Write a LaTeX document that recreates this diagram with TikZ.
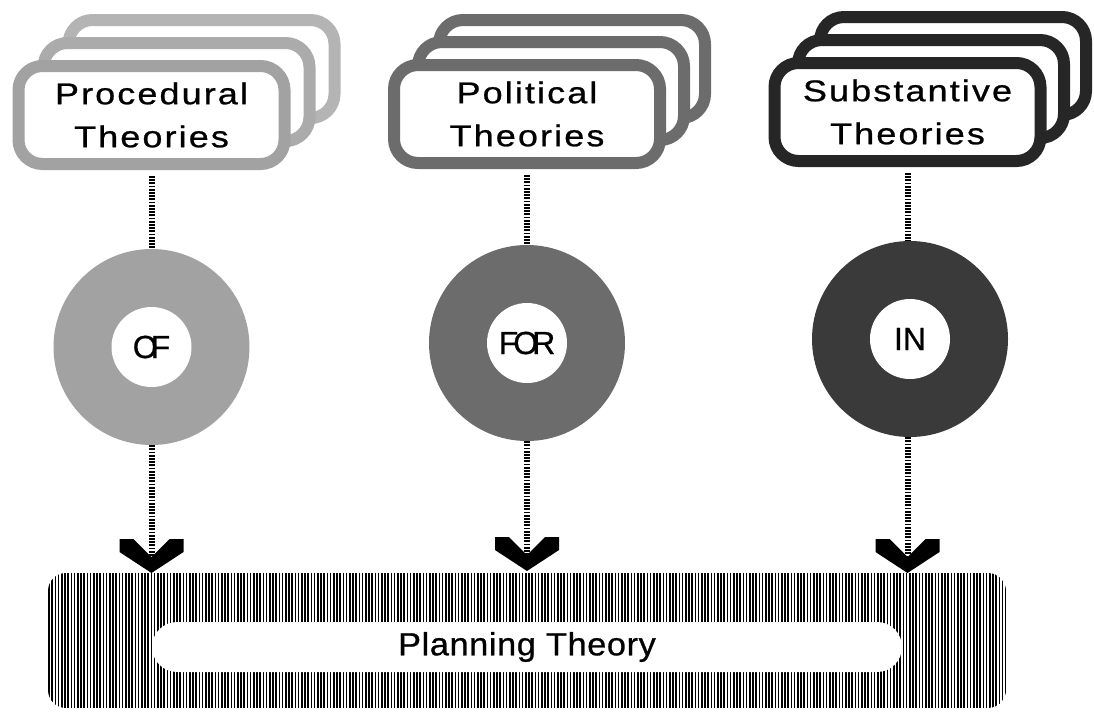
\documentclass[tikz,border=0pt]{standalone}
\usepackage{fontspec}
\setmainfont{Liberation Sans}[FakeBold=0.6]
\newfontfamily\cardfont[LetterSpace=7,FakeStretch=1.2,FakeBold=0.8]{Liberation Sans}
\newfontfamily\barfont[LetterSpace=2,FakeStretch=1.07,FakeBold=0.8]{Liberation Sans}
\definecolor{lightshade}{HTML}{A2A2A2}
\definecolor{lightshadeback}{HTML}{B4B4B4}
\definecolor{midshade}{HTML}{6C6C6C}
\definecolor{darkshade}{HTML}{262626}
\definecolor{darkring}{HTML}{3A3A3A}
\begin{document}
\begin{tikzpicture}[x=1pt,y=-1pt,
  card/.style={draw=#1, fill=white, line width=12pt, rounded corners=24pt,
    inner sep=0pt, minimum width=266pt, minimum height=98pt,
    align=center, font=\cardfont\fontsize{30}{43}\selectfont},
  ring/.style={circle, fill=#1, minimum size=196pt, inner sep=0pt},
  hub/.style={circle, fill=white, minimum size=80pt, inner sep=0pt,
    font=\fontsize{32}{36}\selectfont},
  link/.style={line width=6pt, dash pattern=on 1.8pt off 1.4pt},
  chevron/.pic={\fill (0,0) -- (-32,-21) -- (-32,-34) -- (-18,-34) -- (0,-16)
    -- (18,-34) -- (32,-34) -- (32,-21) -- cycle;},
  hatchbar/.style={rounded corners=18pt, minimum width=958pt, minimum height=135pt,
    inner sep=0pt,
    path picture={\foreach \i in {0,...,300}{
      \draw[line width=1.7pt] ([xshift=\i*3.2pt+1pt]path picture bounding box.north west)
        -- ([xshift=\i*3.2pt+1pt]path picture bounding box.south west);}}}
]
\useasboundingbox (0,0) rectangle (1094,720);

% stacked theory cards, back to front
\node[card=lightshadeback] (procB) at (201.5,69) {};
\node[card=lightshade!90!white] (procM) at (176.5,92) {};
\node[card=lightshade] (procF) at (151.5,115) {Procedural\\Theories};

\node[card=midshade] (polB) at (572,69) {};
\node[card=midshade] (polM) at (551,91) {};
\node[card=midshade] (polF) at (527,114) {Political\\Theories};

\node[card=darkshade] (subB) at (953,66) {};
\node[card=darkshade] (subM) at (931,89) {};
\node[card=darkshade] (subF) at (907.5,112) {Substantive\\Theories};

% preposition rings
\node[ring=lightshade] (ofR) at (151.5,347) {};
\node[hub] (ofH) at (151.5,347) {O\kern-7pt F};
\node[ring=midshade] (forR) at (527,343) {};
\node[hub] (forH) at (527,343) {F\kern-5pt O\kern-6pt R};
\node[ring=darkring] (inR) at (910,339) {};
\node[hub] (inH) at (910,339) {IN};

% planning theory bar
\node[hatchbar] (plan) at (527,640.5) {};
\node[fill=white, rounded corners=25pt, minimum width=750pt, minimum height=50pt,
  inner sep=0pt, font=\barfont\fontsize{32}{38}\selectfont] (plantext) at (527,647) {Planning Theory};

% arrow tips resting on the bar
\coordinate (tipA) at (151.5,573);
\coordinate (tipB) at (527,571);
\coordinate (tipC) at (907.5,573);
\pic at (tipA) {chevron};
\pic at (tipB) {chevron};
\pic at (tipC) {chevron};

% connectors
\draw[link] ([yshift=-6pt]procF.south) -- (procF.south |- ofR.north);
\draw[link] ([yshift=-6pt]polF.south) -- (polF.south |- forR.north);
\draw[link] ([yshift=-6pt]subF.south) -- (subF.south |- inR.north);
\draw[link] (procF.south |- ofR.south) -- ([yshift=14pt]tipA);
\draw[link] (polF.south |- forR.south) -- ([yshift=14pt]tipB);
\draw[link] (subF.south |- inR.south) -- ([yshift=14pt]tipC);
\end{tikzpicture}
\end{document}
